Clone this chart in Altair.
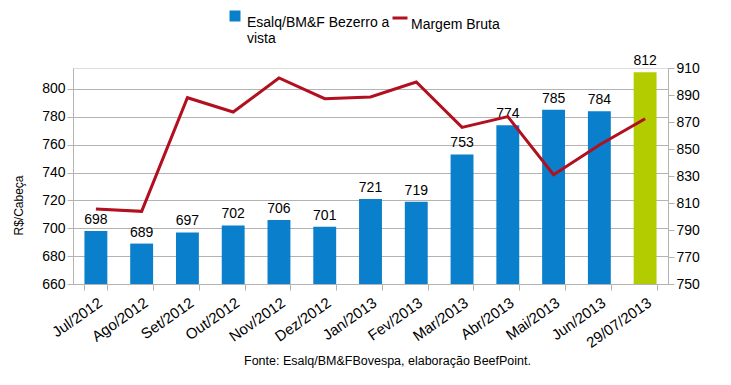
import altair as alt
import pandas as pd

meses = ["Jul/2012", "Ago/2012", "Set/2012", "Out/2012", "Nov/2012", "Dez/2012",
         "Jan/2013", "Fev/2013", "Mar/2013", "Abr/2013", "Mai/2013", "Jun/2013", "29/07/2013"]
bezerro = [698, 689, 697, 702, 706, 701, 721, 719, 753, 774, 785, 784, 812]
margem = [805.6, 803.8, 888.0, 877.4, 902.6, 887.3, 888.5, 899.6, 866.0, 874.0, 831.0, 853.0, 872.4]
left_ticks = [660, 680, 700, 720, 740, 760, 780, 800]
right_ticks = [750, 770, 790, 810, 830, 850, 870, 890, 910]

S1 = "Esalq/BM&F Bezerro a vista"
S2 = "Margem Bruta"

df = pd.DataFrame({"mes": meses, "bezerro": bezerro, "margem": margem,
                   "s1": S1, "s2": S2})

FONT = "Liberation Sans"
BLUE = "#0a7fcc"
GREEN = "#b3cc00"
RED = "#b20f1f"
GRID = "#b3b3b3"

x = alt.X("mes:N", sort=meses, title=None,
          scale=alt.Scale(paddingInner=0.5, paddingOuter=0.25),
          axis=alt.Axis(labelAngle=-35, labelAlign="right", labelBaseline="top",
                        labelFontSize=15, labelPadding=5, labelOverlap=False,
                        tickBand="extent", tickSize=6, tickColor=GRID,
                        domainColor=GRID, labelColor="black", labelFont=FONT))

yl = alt.Y("bezerro:Q", title="R$/Cabeça",
           scale=alt.Scale(domain=[660, 815], nice=False, zero=False),
           axis=alt.Axis(values=left_ticks, labelFontSize=14, labelFont=FONT,
                         labelOverlap=False, tickCount=8,
                         labelColor="black", tickColor=GRID, tickSize=6,
                         domainColor=GRID, gridColor=GRID,
                         titleFontSize=12, titleFontWeight="normal", titleFont=FONT,
                         titleColor="black", titleX=-55, titleY=137,
                         titleBaseline="middle", titleAlign="center"))

bars = alt.Chart(df).mark_bar().encode(
    x=x,
    y=yl,
    y2=alt.datum(660),
    color=alt.condition(
        alt.datum.mes == "29/07/2013",
        alt.value(GREEN),
        alt.Color("s1:N", title=None,
                  scale=alt.Scale(domain=[S1], range=[BLUE]),
                  legend=alt.Legend(orient="none", legendX=155, legendY=-59,
                                    symbolType="square", symbolSize=121,
                                    symbolStrokeWidth=0, labelFontSize=14,
                                    labelFont=FONT, labelColor="black",
                                    labelLimit=300, labelBaseline="top",
                                    labelOffset=5,
                                    labelExpr="datum.label == 'Esalq/BM&F Bezerro a vista' ? ['Esalq/BM&F Bezerro a', 'vista'] : datum.label"))
    ),
)

labels = alt.Chart(df).mark_text(baseline="bottom", dy=-4, fontSize=14, font=FONT,
                                 color="black").encode(
    x=x,
    y=yl,
    text=alt.Text("bezerro:Q"),
)

left = alt.layer(bars, labels)

line = alt.Chart(df).mark_line(strokeWidth=3).encode(
    x=x,
    y=alt.Y("margem:Q", title=None,
            scale=alt.Scale(domain=[750, 910], nice=False, zero=False),
            axis=alt.Axis(orient="right", values=right_ticks, grid=False,
                          labelOverlap=False,
                          labelFontSize=14, labelFont=FONT, labelColor="black",
                          tickColor=GRID, tickSize=6, domainColor=GRID)),
    stroke=alt.Stroke("s2:N", title=None,
                      scale=alt.Scale(domain=[S2], range=[RED]),
                      legend=alt.Legend(orient="none", legendX=318, legendY=-59,
                                        symbolType="stroke", symbolSize=225,
                                        symbolStrokeWidth=3, labelFontSize=14,
                                        labelFont=FONT, labelColor="black",
                                        labelBaseline="top", labelOffset=2)),
)

chart = alt.layer(left, line).resolve_scale(
    y="independent", color="independent", stroke="independent"
).properties(
    width=595,
    height=216,
    padding={"left": 65, "top": 60, "right": 55, "bottom": 92},
    autosize=alt.AutoSizeParams(type="none"),
    title=alt.TitleParams(
        "Fonte: Esalq/BM&FBovespa, elaboração BeefPoint.",
        orient="bottom", anchor="middle", fontSize=12.5, fontWeight="normal",
        font=FONT, color="black", dx=17, offset=5),
).configure_view(stroke=GRID).configure(background="white")

chart.save("out.html", embed_options={"renderer": "svg", "actions": False})
